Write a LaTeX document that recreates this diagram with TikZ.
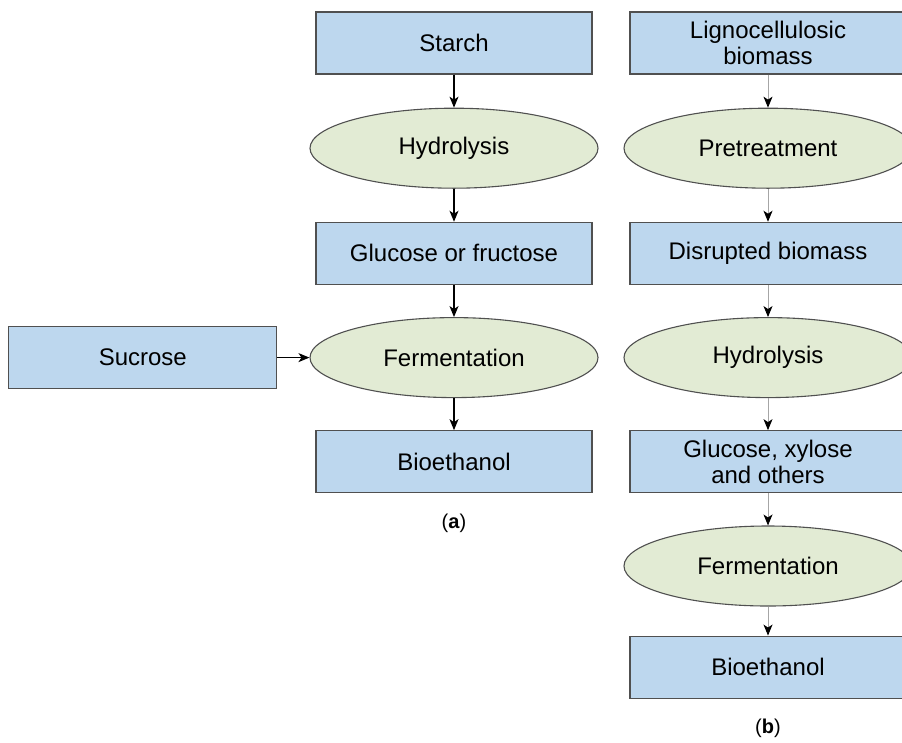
\documentclass[tikz,border=0pt]{standalone}
\usepackage{fontspec}
\setmainfont{Liberation Sans}
\usetikzlibrary{positioning,shapes.geometric,arrows.meta}
\definecolor{boxblue}{RGB}{189,215,238}
\definecolor{ellgreen}{RGB}{226,235,212}
\definecolor{edgegray}{RGB}{80,80,80}

\begin{document}
\begin{tikzpicture}[
		x=1pt,y=-1pt,
		procbox/.style={ % 方框
				rectangle, draw=edgegray, line width=1.3pt, fill=boxblue,
				minimum width=276pt, minimum height=62pt, inner sep=2pt,
				align=center, font=\fontsize{24}{26}\selectfont
			},
		stepell/.style={ % 椭圆
				ellipse, draw=edgegray, line width=1.1pt, fill=ellgreen,
				minimum width=288pt, minimum height=80pt, inner sep=0pt,
				font=\fontsize{24}{26}\selectfont
			},
		flowa/.style={
				line width=1.2pt, black,
				-{Stealth[length=11pt,width=9pt,inset=3pt]}
			},
		flowb/.style={
				line width=0.9pt, black!35,
				-{Stealth[length=11pt,width=9pt,inset=3pt,color=black]}
			}
	]
	\useasboundingbox (0,0) rectangle (902,742);
	% fig (a) starch
	\node[procbox] (i1) at (454,43) {Starch};
	\node[stepell,below =33pt of i1] (i2) {Hydrolysis};
	\node[procbox,below =33pt of i2] (i3) {Glucose or fructose};
	\node[stepell,below =32pt of i3] (i4) {Fermentation};
	\node[procbox,below =32pt of i4] (i5) {Bioethanol};
	\node[procbox,minimum width=268pt,left =32pt of i4] (k1) {Sucrose};
	\node[below =17pt of i5,font=\fontsize{20}{24}\selectfont] (la) {(\textbf{a})};
	% fig (b) lignocellulosic
	\node[procbox] (j1) at (768,43) {Lignocellulosic\\biomass};
	\node[stepell,below =33pt of j1] (j2) {Pretreatment};
	\node[procbox,below =33pt of j2] (j3) {Disrupted biomass};
	\node[stepell,below =32pt of j3] (j4) {Hydrolysis};
	\node[procbox,below =32pt of j4] (j5) {Glucose, xylose\\and others};
	\node[stepell,below =32pt of j5] (j6) {Fermentation};
	\node[procbox,below =29pt of j6] (j7) {Bioethanol};
	\node[below =17pt of j7,font=\fontsize{20}{24}\selectfont] (lb) {(\textbf{b})};
	% 连线
	\foreach \a/\b in {i1/i2,i2/i3,i3/i4,i4/i5}
	\draw[flowa] (\a) -- (\b);
	\draw[flowa] (k1) -- (i4);
	\foreach \a/\b in {j1/j2,j2/j3,j3/j4,j4/j5,j5/j6,j6/j7}
	\draw[flowb] (\a) -- (\b);
\end{tikzpicture}
\end{document}
